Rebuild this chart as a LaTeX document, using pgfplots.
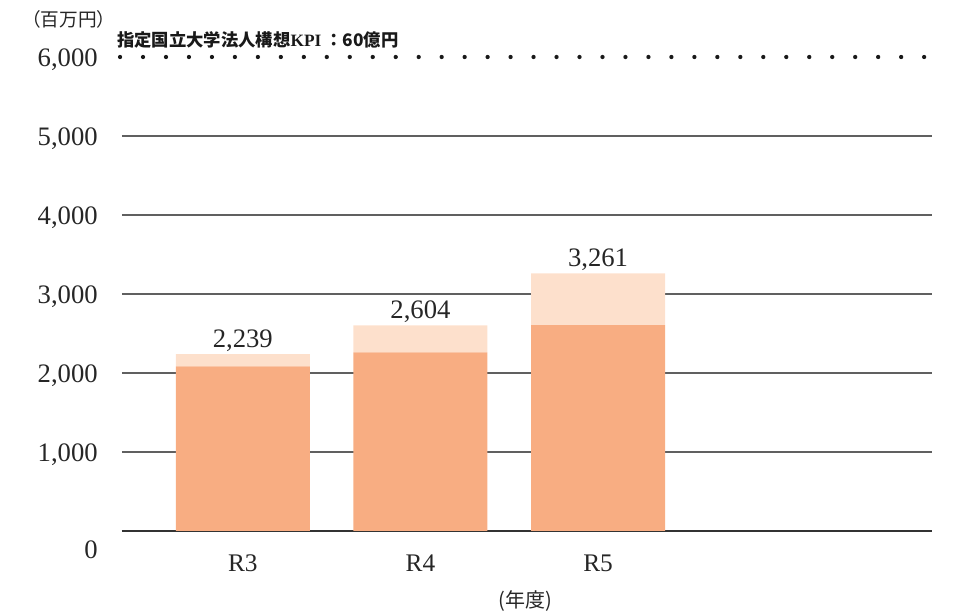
\documentclass[border=0pt]{standalone}
\usepackage{pgfplots}
\pgfplotsset{compat=1.18}
\usepackage{fontspec}
\setmainfont{Liberation Serif}
\newfontfamily\jp{Noto Sans CJK JP}
\definecolor{barA}{HTML}{F8AD82}
\definecolor{barB}{HTML}{FDE0CC}
\definecolor{gridc}{HTML}{606060}
\begin{document}
\begin{tikzpicture}[x=1pt,y=1pt]
\path[use as bounding box] (-91.5,-62.25) rectangle (628.5,398.25);
\begin{axis}[
  at={(0,0)}, anchor=south west,
  scale only axis, width=607.5pt, height=355.5pt,
  xmin=-0.68, xmax=3.88, ymin=0, ymax=6000,
  ybar stacked, bar width=100.5pt,
  axis x line*=bottom, axis y line*=left,
  y axis line style={draw=none},
  x axis line style={draw=black!80, line width=0.9pt},
  major tick length=0pt,
  clip=false,
  ymajorgrids, major grid style={gridc, line width=0.8pt},
  xtick={0,1,2}, xticklabels={R3,R4,R5},
  xticklabel style={anchor=center, yshift=-24pt, font=\fontsize{19}{19}\selectfont, text=black!85},
  ytick={0,1000,2000,3000,4000,5000},
  yticklabel={\ifnum\ticknum=0 \smash{\raisebox{-18.6pt}{0}}\else\pgfmathprintnumber{\tick}\fi},
  extra y ticks={6000},
  extra y tick labels={{6{,}000}},
  extra y tick style={grid=none},
  yticklabel style={anchor=east, inner sep=0pt, xshift=-18pt, yshift=-2.25pt, font=\fontsize{20}{20}\selectfont, text=black!85},
  scaled y ticks=false,
  /pgf/number format/.cd, 1000 sep={,}, assume math mode=true,
]
\draw[line width=3.2pt, line cap=round, dash pattern=on 0pt off 17.23pt, black!90]
  (axis cs:-0.691,6000) -- (axis cs:3.845,6000);
\addplot[fill=barA, draw=none] coordinates {(0,2085) (1,2260) (2,2605)};
\addplot[fill=barB, draw=none] coordinates {(0,154) (1,344) (2,656)};
\node[anchor=south, inner sep=2pt, font=\fontsize{20}{20}\selectfont, text=black!85] at (axis cs:0,2239) {2,239};
\node[anchor=south, inner sep=2pt, font=\fontsize{20}{20}\selectfont, text=black!85] at (axis cs:1,2604) {2,604};
\node[anchor=south, inner sep=2pt, font=\fontsize{20}{20}\selectfont, text=black!85] at (axis cs:2,3261) {3,261};
\end{axis}
\node[font=\jp\fontsize{14}{14}\selectfont, text=black!85] at (-39.75,384) {（百万円）};
\node[font=\jp\bfseries\fontsize{13}{13}\selectfont, anchor=west, inner sep=0pt, text=black!90] at (-3.75,368.25) {指定国立大学法人構想{\rmfamily\bfseries KPI}\ ：60億円};
\node[font=\jp\fontsize{15}{15}\selectfont, text=black!85] at (302.25,-52.5) {(年度)};
\end{tikzpicture}
\end{document}
